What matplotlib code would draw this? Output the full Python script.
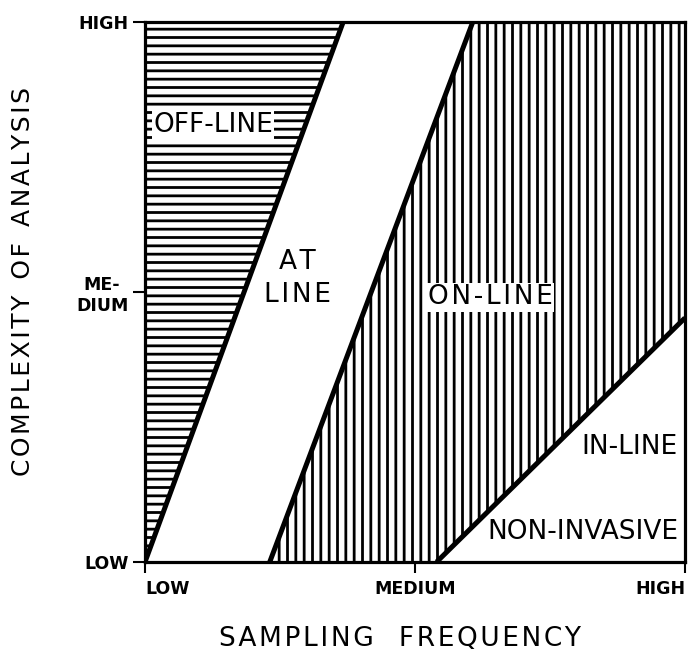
import matplotlib
matplotlib.use('Agg')
import matplotlib.pyplot as plt

#==數據====
ticks = [0, 0.5, 1]
x_labels = ['LOW', 'MEDIUM', 'HIGH']
y_labels = ['LOW', 'ME-\nDIUM', 'HIGH']

# boundary lines (sampling frequency, complexity)
offline_x = [0, 0.367, 0]
offline_y = [0, 1, 1]
online_x = [0.231, 0.607, 1, 1, 0.54]
online_y = [0, 1, 1, 0.452, 0]
border1_x = [0, 0.367]
border1_y = [0, 1]
border2_x = [0.231, 0.607]
border2_y = [0, 1]
border3_x = [0.54, 1]
border3_y = [0, 0.452]

def spaced(s):
    # letter spacing with hair spaces
    return '\u200a'.join(s)

#==字型====
plt.rcParams['font.family'] = 'DejaVu Sans'
plt.rcParams['hatch.linewidth'] = 2.0

fig = plt.figure(figsize=(6.95, 6.61), dpi=100)
ax = fig.add_axes([145 / 695, 99 / 661, 540 / 695, 540 / 661])

ax.fill(offline_x, offline_y, facecolor='white', edgecolor='black', hatch='--', linewidth=0)
ax.fill(online_x, online_y, facecolor='white', edgecolor='black', hatch='||', linewidth=0)
ax.plot(border1_x, border1_y, color='black', lw=3.6, solid_capstyle='butt')
ax.plot(border2_x, border2_y, color='black', lw=3.6, solid_capstyle='butt')
ax.plot(border3_x, border3_y, color='black', lw=3.6, solid_capstyle='butt')

ax.set_xlim(0, 1)
ax.set_ylim(0, 1)
for s in ax.spines.values():
    s.set_linewidth(2.3)

ax.set_xticks(ticks)
ax.set_yticks(ticks)
ax.set_xticklabels(x_labels, fontsize=12.5, fontweight='bold')
ax.set_yticklabels(y_labels, fontsize=12.5, fontweight='bold', linespacing=1.2,
                   multialignment='center')
ax.tick_params(axis='y', direction='out', length=9, width=1.5, pad=3)
ax.tick_params(axis='x', direction='out', length=8, width=1.5, pad=5)
xl = ax.get_xticklabels()
xl[0].set_ha('left')
xl[2].set_ha('right')

ax.set_xlabel(spaced('SAMPLING') + '   ' + spaced('FREQUENCY'), fontsize=19)
ax.xaxis.set_label_coords(0.472, -0.118)
ax.set_ylabel(spaced('COMPLEXITY') + '  ' + spaced('OF') + '  ' + spaced('ANALYSIS'), fontsize=18)
ax.yaxis.set_label_coords(-0.204, 0.52)

box = dict(facecolor='white', edgecolor='none', pad=1)
ax.text(0.015, 0.809, 'OFF-LINE', fontsize=19, va='center', ha='left', bbox=box)
ax.text(0.283, 0.525, spaced('AT') + '\n' + spaced('LINE'), fontsize=19, va='center', ha='center',
        linespacing=1.35)
ax.text(0.639, 0.49, spaced('ON-LINE'), fontsize=19, va='center', ha='center', bbox=box)
ax.text(0.987, 0.213, 'IN-LINE', fontsize=19, va='center', ha='right')
ax.text(0.987, 0.056, 'NON-INVASIVE', fontsize=19, va='center', ha='right')

fig.savefig('out.png', dpi=100)
